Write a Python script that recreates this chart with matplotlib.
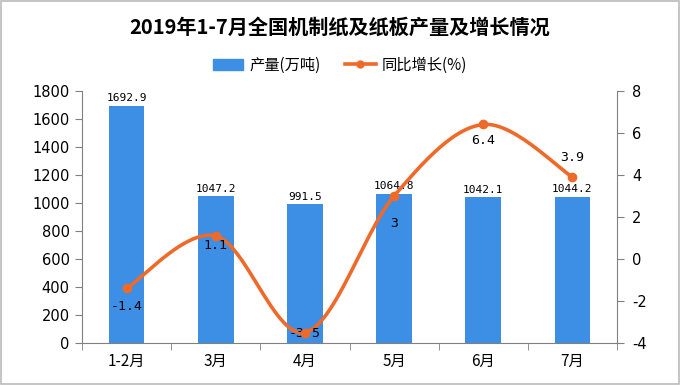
import numpy as np
import matplotlib
matplotlib.use("Agg")
import matplotlib.pyplot as plt
from matplotlib.patches import Rectangle
from matplotlib.lines import Line2D

plt.rcParams['font.family'] = ['Noto Sans CJK SC', 'DejaVu Sans']

months = ['1-2月', '3月', '4月', '5月', '6月', '7月']
output = [1692.9, 1047.2, 991.5, 1064.8, 1042.1, 1044.2]
growth = [-1.4, 1.1, -3.5, 3, 6.4, 3.9]

bar_color = '#3d8fe6'
line_color = '#ee6a2a'
axis_color = '#808080'


def smooth_curve(xs, ys, n=30):
    # Excel-like smoothed line: cubic bezier segments with Catmull-Rom controls
    xs = np.asarray(xs, float)
    ys = np.asarray(ys, float)
    px, py = [], []
    k = len(xs)
    for i in range(k - 1):
        x0, y0 = xs[max(i - 1, 0)], ys[max(i - 1, 0)]
        x1, y1 = xs[i], ys[i]
        x2, y2 = xs[i + 1], ys[i + 1]
        x3, y3 = xs[min(i + 2, k - 1)], ys[min(i + 2, k - 1)]
        c1x, c1y = x1 + (x2 - x0) / 6, y1 + (y2 - y0) / 6
        c2x, c2y = x2 - (x3 - x1) / 6, y2 - (y3 - y1) / 6
        t = np.linspace(0, 1, n)
        bx = (1-t)**3*x1 + 3*(1-t)**2*t*c1x + 3*(1-t)*t**2*c2x + t**3*x2
        by = (1-t)**3*y1 + 3*(1-t)**2*t*c1y + 3*(1-t)*t**2*c2y + t**3*y2
        px.extend(bx)
        py.extend(by)
    return np.array(px), np.array(py)


fig = plt.figure(figsize=(6.8, 3.85), dpi=100)
fig.patch.set_facecolor('white')
fig.patches.append(Rectangle((0.002, 0.003), 0.996, 0.994, transform=fig.transFigure,
                             fill=False, edgecolor='#bbbbbb', linewidth=1.2))

ax = fig.add_axes([0.1206, 0.109, 0.7868, 0.655])
x = np.arange(len(months))
ax.bar(x, output, width=0.4, color=bar_color, zorder=2)
ax.set_xlim(-0.5, len(months) - 0.5)
ax.set_ylim(0, 1800)
ax.set_yticks(np.arange(0, 1801, 200))
ax.set_yticklabels([str(v) for v in range(0, 1801, 200)], family='DejaVu Sans')
ax.set_xticks(x)
ax.set_xticklabels(months, fontsize=11)
ax.set_xticks(np.arange(-0.5, len(months), 1), minor=True)
ax.tick_params(axis='x', which='major', length=0, pad=7)
ax.tick_params(axis='x', which='minor', length=5, color=axis_color)
ax.tick_params(axis='y', length=5, color=axis_color, labelsize=10.5, pad=4)
for s in ['top', 'right']:
    ax.spines[s].set_visible(False)
for s in ['left', 'bottom']:
    ax.spines[s].set_color(axis_color)

for xi, v in zip(x, output):
    ax.text(xi, v + 18, f'{v:.1f}', ha='center', va='bottom', fontsize=8,
            family=['DejaVu Sans Mono', 'DejaVu Sans'])

ax2 = ax.twinx()
ax2.set_ylim(-4, 8)
ax2.set_yticks(np.arange(-4, 9, 2))
ax2.set_yticklabels([str(v) for v in range(-4, 9, 2)], family='DejaVu Sans')
ax2.tick_params(axis='y', length=5, color=axis_color, labelsize=10.5, pad=6)
for s in ['top', 'left', 'bottom']:
    ax2.spines[s].set_visible(False)
ax2.spines['right'].set_color(axis_color)

cx, cy = smooth_curve(x, growth)
ax2.plot(cx, cy, color=line_color, linewidth=2.6, zorder=3)
ax2.plot(x, growth, 'o', color=line_color, markersize=6, zorder=4)

label_offsets = [-18, -10, -1, -28, -16, 20]
for xi, g, off in zip(x, growth, label_offsets):
    ax2.annotate(f'{g:g}', (xi, g), xytext=(0, off), textcoords='offset pixels',
                 ha='center', va='center', fontsize=9.5,
                 family=['DejaVu Sans Mono', 'DejaVu Sans'])

fig.text(0.5, 0.93, '2019年1-7月全国机制纸及纸板产量及增长情况', ha='center', va='center',
         fontsize=14.5, fontweight='bold')

handles = [Rectangle((0, 0), 1, 1, color=bar_color),
           Line2D([0], [0], color=line_color, linewidth=2.6, marker='o', markersize=5)]
fig.legend(handles, ['产量(万吨)', '同比增长(%)'], loc='center', bbox_to_anchor=(0.5, 0.831),
           ncol=2, frameon=False, fontsize=11, handlelength=2.0, columnspacing=1.6,
           handletextpad=0.4)

fig.savefig('out.png', dpi=100)
